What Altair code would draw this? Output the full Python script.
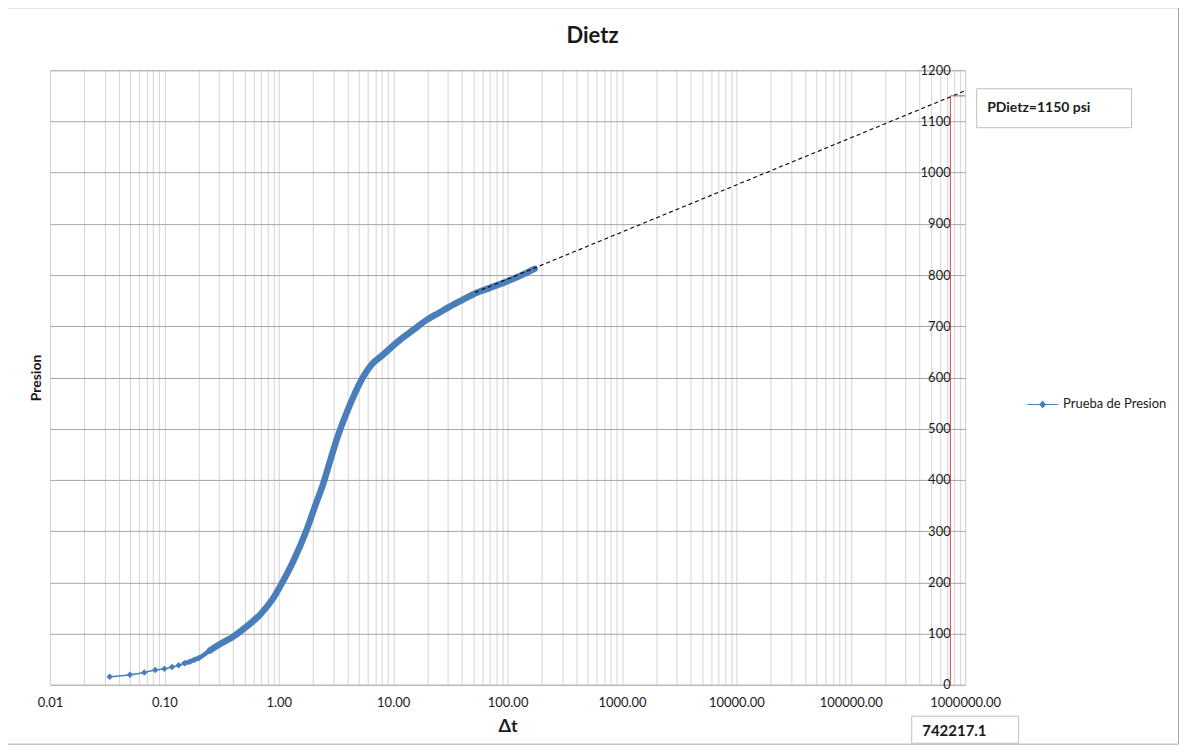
import altair as alt
import pandas as pd

# ---- data ----
t_vals = [0.0333, 0.05, 0.0667, 0.0833, 0.1, 0.1167, 0.1333, 0.15, 0.1667, 0.1833, 0.2,
          0.25, 0.3, 0.4, 0.5, 0.7, 0.9, 1.1, 1.35, 1.75, 2.1, 2.45, 2.8, 3.2, 3.9,
          4.5, 5.0, 5.5, 6.4, 8.1, 11.4, 15, 19.5, 25, 31, 40, 53, 70, 97, 130, 172]
p_vals = [15.6, 19.5, 24, 28.7, 31, 34.5, 38, 42, 45, 49, 52,
          67, 78, 94, 110, 139, 170, 204, 243, 302, 352, 393, 436, 478, 530,
          563, 585, 602, 624, 644, 673, 693, 712, 726, 738, 751, 765, 775, 787, 799, 812]
series_name = "Prueba de Presion"

dash_t = [52, 1000000]
dash_p = [766, 1160]

t_dietz = 742217.1
p_dietz = 1150
t_max = 1000000

decades = [0.01, 0.1, 1, 10, 100, 1000, 10000, 100000, 1000000]
y_ticks = [0, 100, 200, 300, 400, 500, 600, 700, 800, 900, 1000, 1100, 1200]
dietz_label = "PDietz=1150 psi"
t_label = "742217.1"
chart_title = "Dietz"
x_title = "Δt"
y_title = "Presion"

grid_ticks = [m * d for d in decades[:-1] for m in range(1, 10)] + [decades[-1]]

BLUE = "#4a7ebb"
RED = "#c0504d"
FONT = "Lato"
TXT = "#1a1a1a"

df = pd.DataFrame({"t": t_vals, "P": p_vals, "series": series_name})
df_dash = pd.DataFrame({"t": dash_t, "P": dash_p})
df_v = pd.DataFrame({"t": [t_dietz], "P": [0], "P2": [p_dietz]})
df_h = pd.DataFrame({"t": [t_dietz], "t2": [t_max], "P": [p_dietz]})

X = alt.X("t:Q",
          scale=alt.Scale(type="log", domain=[decades[0], decades[-1]]),
          axis=alt.Axis(values=grid_ticks,
                        labelExpr="abs(log(datum.value)/LN10 - round(log(datum.value)/LN10)) < 1e-6 ? format(datum.value, '.2f') : ''",
                        grid=True, gridColor="#d4d4d4", gridWidth=1,
                        ticks=False, domain=False, labelPadding=12,
                        labelFont=FONT, labelFontSize=13, labelColor=TXT,
                        labelOverlap=False, labelFlush=False,
                        title=x_title, titleFont=FONT, titleFontSize=18,
                        titleFontWeight="bold", titleColor=TXT, titlePadding=8))

Y = alt.Y("P:Q",
          scale=alt.Scale(domain=[0, 1200], nice=False),
          axis=alt.Axis(values=y_ticks, format="d", grid=True, gridColor="#a6a6a6", gridWidth=1,
                        ticks=False, domain=False, offset=-902, labelPadding=1,
                        labelFont=FONT, labelFontSize=13, labelColor=TXT,
                        title=y_title, titleFont=FONT, titleFontSize=14,
                        titleFontWeight="bold", titleColor=TXT,
                        titleX=-915, titleY=307.5, titleAngle=270,
                        titleAlign="center", titleBaseline="middle"))

color = alt.Color("series:N",
                  scale=alt.Scale(domain=[series_name], range=[BLUE]),
                  legend=alt.Legend(title=None, orient="none", legendX=977, legendY=318,
                                    symbolType="M-1,0L1,0M-0.17,0L0,-0.2L0.17,0L0,0.2Z",
                                    symbolSize=961, labelFont=FONT, labelFontSize=13,
                                    labelColor=TXT, labelOffset=4, padding=0,
                                    symbolFillColor=BLUE, symbolStrokeColor=BLUE,
                                    symbolStrokeWidth=1.2))

frame = alt.Chart(pd.DataFrame({"k": [0]})).mark_rect(
    fill="transparent", stroke="#a6a6a6", strokeWidth=1).encode(
    x=alt.value(-42.5), x2=alt.value(1129.5), y=alt.value(-62.5), y2=alt.value(674.5))

title_text = alt.Chart(pd.DataFrame({"label": [chart_title]})).mark_text(
    align="center", baseline="alphabetic", font=FONT, fontSize=22, fontWeight="bold",
    color=TXT).encode(x=alt.value(543), y=alt.value(-27), text="label:N")

thin = alt.Chart(df).mark_line(
    strokeWidth=1.5, interpolate="monotone",
    point=alt.OverlayMarkDef(shape="diamond", size=42, filled=True)).encode(
    x=X, y=Y, color=color)

medium = alt.Chart(df).transform_filter(alt.datum.t >= 0.14).mark_line(
    strokeWidth=4.5, interpolate="monotone", strokeCap="round", strokeJoin="round").encode(
    x=X, y=Y, color=color)

thick = alt.Chart(df).transform_filter(alt.datum.t >= 0.24).mark_line(
    strokeWidth=6.5, interpolate="monotone", strokeCap="round", strokeJoin="round").encode(
    x=X, y=Y, color=color)

dash = alt.Chart(df_dash).mark_line(color="black", strokeWidth=1.1, strokeDash=[4, 3]).encode(
    x=X, y=Y)

vline = alt.Chart(df_v).mark_rule(color=RED, strokeWidth=1).encode(
    x=X, y=Y, y2="P2:Q")
hline = alt.Chart(df_h).mark_rule(color=RED, strokeWidth=1).encode(
    x=X, x2="t2:Q", y=Y)

box1 = alt.Chart(pd.DataFrame({"k": [0]})).mark_rect(
    fill="white", stroke="#bfbfbf", strokeWidth=1).encode(
    x=alt.value(927.5), x2=alt.value(1082.5), y=alt.value(18.5), y2=alt.value(57.5))
text1 = alt.Chart(pd.DataFrame({"label": [dietz_label]})).mark_text(
    align="left", baseline="middle", font=FONT, fontSize=14, fontWeight="bold", color=TXT).encode(
    x=alt.value(938), y=alt.value(38), text="label:N")

box2 = alt.Chart(pd.DataFrame({"k": [0]})).mark_rect(
    fill="white", stroke="#bfbfbf", strokeWidth=1).encode(
    x=alt.value(862.5), x2=alt.value(969.5), y=alt.value(646.5), y2=alt.value(673.5))
text2 = alt.Chart(pd.DataFrame({"label": [t_label]})).mark_text(
    align="left", baseline="middle", font=FONT, fontSize=15, fontWeight="bold", color=TXT).encode(
    x=alt.value(873), y=alt.value(661), text="label:N")

chart = alt.layer(frame, title_text, thin, medium, thick, dash, vline, hline,
                  box1, text1, box2, text2).properties(
    width=916, height=615,
    autosize=alt.AutoSizeParams(type="none"),
    padding={"left": 42, "top": 62, "right": 214, "bottom": 60},
).configure_view(stroke="#a6a6a6", strokeWidth=1).configure(background="white")

chart.save("out.html", embed_options={"renderer": "svg", "actions": False})
